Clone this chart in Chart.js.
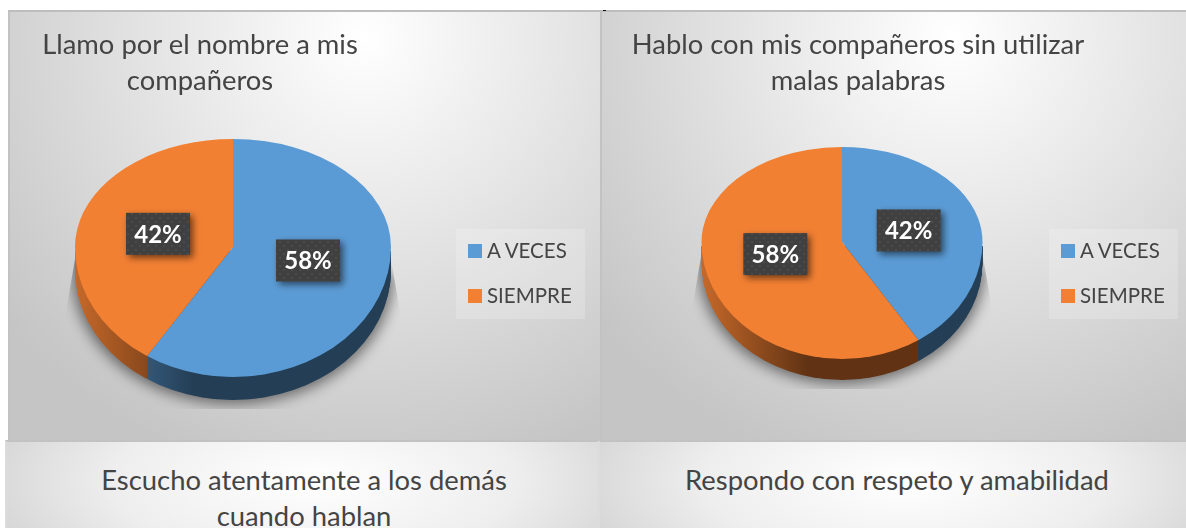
<!DOCTYPE html>
<html><head><meta charset="utf-8">
<script src="https://cdn.jsdelivr.net/npm/chart.js@4"></script>
<style>
html,body{margin:0;padding:0;background:#fff;width:1186px;height:528px;overflow:hidden}
.panel{position:absolute;overflow:hidden;box-sizing:border-box}
.top{background:radial-gradient(ellipse 78% 105% at 60% 6%,#ffffff 0%,#e9e9e9 38%,#d5d5d5 72%,#c5c5c5 100%);border-top:2px solid #bdbdbd;border-left:2px solid #c2c2c2}
.bot{background:radial-gradient(ellipse 62% 170% at 52% 45%,#ffffff 0%,#eeeeee 55%,#d0d0d0 100%);border-top:2px solid #c2c2c2;border-left:2px solid #dcdcdc}
.t{position:absolute;font-family:Lato,sans-serif;font-size:27.4px;color:#444;white-space:nowrap;transform:translateX(-50%);line-height:36px;text-align:center}
.legend{position:absolute;width:129px;height:90px;background:rgba(255,255,255,.2);font-family:Lato,sans-serif;font-size:20.5px;color:#444}
.legend i{position:absolute;left:12px;width:14px;height:14px}
.legend span{position:absolute;left:31px;line-height:26px;white-space:nowrap}
canvas{position:absolute;left:0;top:0}
#tick{position:absolute;left:603px;top:10px;width:3px;height:1px;background:#111;z-index:3}
</style></head><body>
<div id="root"></div><div id="tick"></div>
<script>
const categories = ["A VECES", "SIEMPRE"];
const valuesNombre = [58, 42];
const valuesPalabras = [42, 58];
const colors = ["#5B9BD5", "#F28033"];
const titleNombre = ["Llamo por el nombre a mis", "compañeros"];
const titlePalabras = ["Hablo con mis compañeros sin utilizar", "malas palabras"];
const titleEscucho = ["Escucho atentamente a los demás", "cuando hablan"];
const titleRespondo = ["Respondo con respeto y amabilidad"];

const root = document.getElementById('root');
function panel(cls, x, y, w, h) {
  const d = document.createElement('div');
  d.className = 'panel ' + cls;
  d.style.cssText = `left:${x}px;top:${y}px;width:${w}px;height:${h}px`;
  root.appendChild(d);
  return d;
}
function title(p, lines, cx, top) {
  const t = document.createElement('div');
  t.className = 't';
  t.style.left = cx + 'px';
  t.style.top = top + 'px';
  t.innerHTML = lines.join('<br>');
  p.appendChild(t);
}
function rgb(hex, f) {
  const n = parseInt(hex.slice(1), 16);
  return `rgb(${Math.round((n >> 16) * f)},${Math.round(((n >> 8) & 255) * f)},${Math.round((n & 255) * f)})`;
}
function dotPattern(ctx) {
  const c = document.createElement('canvas');
  c.width = 8; c.height = 8;
  const g = c.getContext('2d');
  g.fillStyle = '#404040'; g.fillRect(0, 0, 8, 8);
  g.fillStyle = '#4b4b4b';
  g.fillRect(1, 1, 2, 2); g.fillRect(5, 5, 2, 2);
  return ctx.createPattern(c, 'repeat');
}

const PERSPECTIVE_X = 1.18;
const pie3d = {
  id: 'pie3d',
  beforeDatasetDraw(chart, args, o) {
    const arcs = args.meta.data, ctx = chart.ctx;
    const cx = arcs[0].x, vy = arcs[0].y, R = arcs[0].outerRadius;
    const sTop = o.topR / R, sBot = o.botR / R;
    const H = chart.height, W = chart.width;
    // near half of the disc: widened about the vertex, cut by the true ellipse
    const nearHalf = (d, draw) => {
      ctx.save();
      ctx.beginPath();
      ctx.ellipse(cx, vy + d, R, o.botR, 0, 0, Math.PI);
      ctx.closePath();
      ctx.clip();
      ctx.translate(cx, vy + d);
      ctx.scale(PERSPECTIVE_X, sBot);
      ctx.translate(-cx, -vy);
      draw();
      ctx.restore();
    };
    // soft shadow below the disc
    ctx.save();
    ctx.beginPath();
    ctx.moveTo(cx - R, vy + 12);
    ctx.lineTo(cx - R - 10, vy + 70);
    ctx.lineTo(cx - R - 10, vy + o.botR + o.depth + 9);
    ctx.lineTo(cx + R + 10, vy + o.botR + o.depth + 9);
    ctx.lineTo(cx + R + 10, vy + 70);
    ctx.lineTo(cx + R, vy + 12);
    ctx.closePath();
    ctx.clip();
    ctx.filter = 'blur(7px)';
    ctx.fillStyle = 'rgba(0,0,0,.5)';
    ctx.beginPath();
    ctx.ellipse(cx, vy + o.depth + 3, R + 3, o.botR + 1, 0, 0, Math.PI);
    ctx.lineTo(cx - R - 3, vy);
    ctx.closePath();
    ctx.fill();
    ctx.restore();
    // side wall: the library's arcs repeated downwards with a shaded fill
    ctx.save();
    ctx.beginPath(); ctx.rect(0, vy + 4, W, H); ctx.clip();
    const wallOptions = arcs.map((arc, i) => {
      const g = ctx.createLinearGradient(cx - R / PERSPECTIVE_X, 0, cx - R * 0.25 / PERSPECTIVE_X, 0);
      g.addColorStop(0, rgb(colors[i], .82));
      g.addColorStop(1, rgb(colors[i], .4));
      return Object.assign({}, arc.options, { backgroundColor: g, borderWidth: 0 });
    });
    const savedOptions = arcs.map(a => a.options);
    arcs.forEach((a, i) => { a.options = wallOptions[i]; });
    for (let d = o.depth; d >= 1; d--) nearHalf(d, () => arcs.forEach(a => a.draw(ctx)));
    arcs.forEach((a, i) => { a.options = savedOptions[i]; });
    ctx.restore();
    // top face: far half flat-scaled, near half with the perspective widening
    ctx.save();
    ctx.beginPath(); ctx.rect(0, 0, W, vy + .5); ctx.clip();
    ctx.translate(cx, vy); ctx.scale(1, sTop); ctx.translate(-cx, -vy);
    arcs.forEach(a => a.draw(ctx));
    ctx.restore();
    nearHalf(0, () => arcs.forEach(a => a.draw(ctx)));
    return false;
  },
  afterDatasetsDraw(chart, args, o) {
    const ctx = chart.ctx, meta = chart.getDatasetMeta(0), data = chart.data.datasets[0].data;
    meta.data.forEach((arc, i) => {
      const mid = (arc.startAngle + arc.endAngle) / 2;
      const r = arc.outerRadius * .49;
      const dy = Math.sin(mid) * r;
      const x = arc.x + Math.cos(mid) * r;
      const y = arc.y + dy * (dy < 0 ? o.topR : o.botR * .85) / arc.outerRadius;
      const bw = 64, bh = 42;
      ctx.save();
      ctx.shadowColor = 'rgba(0,0,0,.55)';
      ctx.shadowBlur = 7; ctx.shadowOffsetX = 3; ctx.shadowOffsetY = 3;
      ctx.fillStyle = dotPattern(ctx);
      ctx.fillRect(x - bw / 2, y - bh / 2, bw, bh);
      ctx.restore();
      ctx.save();
      ctx.fillStyle = '#fff';
      ctx.font = 'bold 24px Lato, sans-serif';
      ctx.textAlign = 'center';
      ctx.textBaseline = 'middle';
      ctx.fillText(data[i] + '%', x, y + 1);
      ctx.restore();
    });
  }
};

function pieChart(p, W, H, cx, vy, R, topR, botR, depth, values) {
  const c = document.createElement('canvas');
  c.width = W; c.height = H;
  c.style.width = W + 'px'; c.style.height = H + 'px';
  p.appendChild(c);
  new Chart(c, {
    type: 'pie',
    plugins: [pie3d],
    data: { labels: categories, datasets: [{ data: values, backgroundColor: colors, borderWidth: 0 }] },
    options: {
      responsive: false, animation: false,
      layout: { padding: { left: cx - R, right: W - cx - R, top: vy - R, bottom: H - vy - R } },
      plugins: { legend: { display: false }, title: { display: false }, tooltip: { enabled: false },
        pie3d: { topR, botR, depth } }
    }
  });
}
function legend(p, x, y) {
  const l = document.createElement('div');
  l.className = 'legend';
  l.style.left = x + 'px'; l.style.top = y + 'px';
  categories.forEach((name, i) => {
    const sq = document.createElement('i');
    sq.style.top = (15 + i * 45) + 'px';
    sq.style.background = colors[i];
    const sp = document.createElement('span');
    sp.style.top = (8 + i * 45) + 'px';
    sp.textContent = name;
    l.append(sq, sp);
  });
  p.appendChild(l);
}

const p1 = panel('top', 8, 10, 592, 430);
const p2 = panel('top', 600, 10, 586, 430);
const p3 = panel('bot', 5, 440, 593, 88);
const p4 = panel('bot', 598, 440, 588, 88);

pieChart(p1, 590, 428, 223, 235, 158, 108, 130, 23, valuesNombre);
pieChart(p2, 584, 428, 240, 230, 140.5, 95, 117, 21, valuesPalabras);
title(p1, titleNombre, 190, 14);
title(p2, titlePalabras, 256, 14);
title(p3, titleEscucho, 297, 20);
title(p4, titleRespondo, 297, 20);
legend(p1, 446, 217);
legend(p2, 447, 217);
</script>
</body></html>
